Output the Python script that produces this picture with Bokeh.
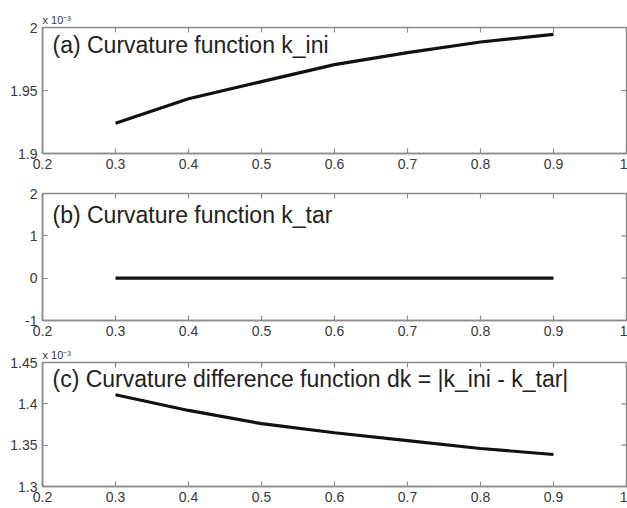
import math
from bokeh.plotting import figure
from bokeh.models import (Range1d, LinearAxis, FixedTicker, CustomJSTickFormatter, Label, Column)
from bokeh.embed import file_html
from bokeh.resources import INLINE

# ---- data ----
x_vals = [0.3, 0.4, 0.5, 0.6, 0.7, 0.8, 0.9]
k_ini_e3 = [1.924, 1.9434, 1.957, 1.9705, 1.980, 1.9885, 1.9945]   # x 10^-3
k_tar = [0.0, 0.0, 0.0, 0.0, 0.0, 0.0, 0.0]
dk_e3 = [1.411, 1.392, 1.376, 1.365, 1.3556, 1.346, 1.3387]        # x 10^-3

x_ticks = [0.2, 0.3, 0.4, 0.5, 0.6, 0.7, 0.8, 0.9, 1.0]
a_ticks = [1.9, 1.95, 2.0]
b_ticks = [-1, 0, 1, 2]
c_ticks = [1.3, 1.35, 1.4, 1.45]

titles = ["(a) Curvature function k_ini",
          "(b) Curvature function k_tar",
          "(c) Curvature difference function dk = |k_ini - k_tar|"]
exponent_text = "x 10\u207b\u00b3"

FONT = "Liberation Sans"
FRAME = "#8c8c8c"
LABEL = "#383838"

fmt_code = "return String(+tick.toFixed(3));"


def style_axis(ax, standoff):
    ax.axis_line_color = FRAME
    ax.axis_line_width = 1.5
    ax.major_tick_line_color = FRAME
    ax.major_tick_line_width = 1.2
    ax.major_tick_in = 5
    ax.major_tick_out = 0
    ax.minor_tick_line_color = None
    ax.formatter = CustomJSTickFormatter(code=fmt_code)
    ax.major_label_text_font = FONT
    ax.major_label_text_font_size = "14px"
    ax.major_label_text_color = LABEL
    ax.major_label_standoff = standoff


def panel(ys, yr, yticks, title, height, btop, bbot, title_off, exponent):
    p = figure(width=627, height=height, output_backend="svg", toolbar_location=None,
               x_range=Range1d(0.2, 1.0), y_range=Range1d(*yr),
               min_border_left=42, min_border_right=1,
               min_border_top=btop, min_border_bottom=bbot,
               x_axis_location=None, y_axis_location=None)
    p.grid.grid_line_color = None
    p.outline_line_color = FRAME
    p.outline_line_width = 1.5
    p.background_fill_color = "white"
    p.border_fill_color = "white"

    bottom = LinearAxis(ticker=FixedTicker(ticks=x_ticks))
    style_axis(bottom, 5)
    p.add_layout(bottom, "below")
    left = LinearAxis(ticker=FixedTicker(ticks=yticks))
    style_axis(left, 5)
    p.add_layout(left, "left")

    # inward ticks on the top and right edges of the box (clipped to the frame)
    p.scatter(x_ticks, [yr[1]] * len(x_ticks), marker="dash", size=10,
              angle=math.pi / 2, line_color=FRAME, line_width=1.2)
    p.scatter([1.0] * len(yticks), yticks, marker="dash", size=10,
              line_color=FRAME, line_width=1.2)

    p.line(x_vals, ys, line_color="#111111", line_width=3.2)

    p.add_layout(Label(x=0.2, y=yr[1], x_offset=10, y_offset=-title_off,
                       text=title, text_font=FONT, text_font_size="23px",
                       text_color="#222222", text_baseline="middle"))
    if exponent:
        p.title.text = exponent_text
        p.title.align = "left"
        p.title.text_font = FONT
        p.title.text_font_size = "11px"
        p.title.text_font_style = "normal"
        p.title.text_color = LABEL
        p.title.standoff = 4
    return p


pa = panel(k_ini_e3, (1.9, 2.0), a_ticks, titles[0], 173, 27, 20, 17, True)
pb = panel(k_tar, (-1, 2), b_ticks, titles[1], 168, 20, 21, 21, False)
pc = panel(dk_e3, (1.3, 1.45), c_ticks, titles[2], 167, 21, 22, 16, True)

layout = Column(children=[pa, pb, pc], spacing=0)

open("out.html", "w").write(file_html(layout, INLINE))
